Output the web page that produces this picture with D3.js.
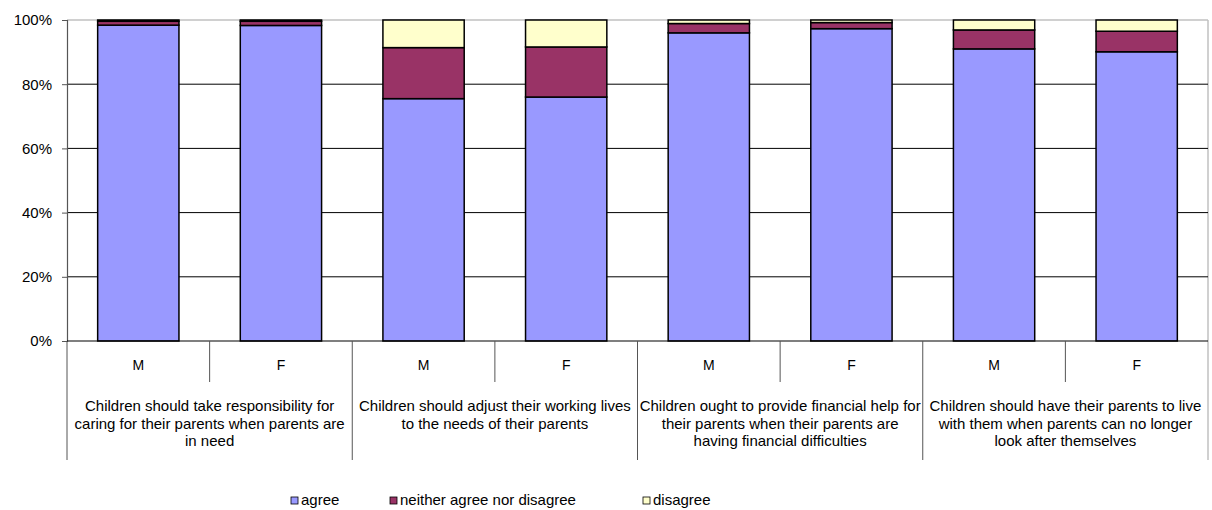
<!DOCTYPE html>
<html>
<head>
<meta charset="utf-8">
<script src="https://cdn.jsdelivr.net/npm/d3@7"></script>
<style>
  body { margin: 0; background: #fff; }
  svg { display: block; font-family: Arial, "Liberation Sans", sans-serif; }
</style>
</head>
<body>
<svg id="chart" width="1212" height="510"></svg>
<script>
// question groups (already wrapped as in the original)
const questions = [
  ["Children should take responsibility for", "caring for their parents when parents are", "in need"],
  ["Children should adjust their working lives", "to the needs of their parents"],
  ["Children ought to provide financial help for", "their parents when their parents are", "having financial difficulties"],
  ["Children should have their parents to live", "with them when parents can no longer", "look after themselves"]
];
const sexes = ["M", "F"];
const seriesNames = ["agree", "neither agree nor disagree", "disagree"];
const seriesColors = ["#9999ff", "#993366", "#ffffcc"];

// percent values per bar, order: Q1 M, Q1 F, Q2 M, Q2 F, ...
const agree    = [98.4, 98.3, 75.5, 76.0, 96.0, 97.3, 91.0, 90.1];
const neither  = [1.2, 1.3, 15.9, 15.6, 2.9, 1.9, 5.9, 6.4];
const disagree = [0.4, 0.4, 8.6, 8.4, 1.1, 0.8, 3.1, 3.5];
const yTicks = [0, 20, 40, 60, 80, 100];

const svg = d3.select("#chart");
const plotLeft = 67, plotRight = 1208, plotTop = 20, plotBottom = 341;

// build rows for the stack
let rows = [];
questions.forEach((q, qi) => {
  sexes.forEach((s, si) => {
    let i = qi * 2 + si;
    rows.push({ key: qi + "-" + s, q: qi, sex: s,
      agree: agree[i], neither: neither[i], disagree: disagree[i] });
  });
});

const x = d3.scaleBand()
  .domain(rows.map(d => d.key))
  .range([plotLeft, plotRight])
  .paddingInner(0.43)
  .paddingOuter(0.215);
const xGroup = d3.scaleBand()
  .domain(d3.range(questions.length))
  .range([plotLeft, plotRight]);
const y = d3.scaleLinear().domain([0, 100]).range([plotBottom, plotTop]);

// plot border (gray) at top and right
svg.append("line").attr("x1", plotLeft).attr("x2", plotRight).attr("y1", plotTop).attr("y2", plotTop)
  .attr("stroke", "#c0c0c0").attr("stroke-width", 1.5);
svg.append("line").attr("x1", plotRight).attr("x2", plotRight).attr("y1", plotTop).attr("y2", 460)
  .attr("stroke", "#c0c0c0").attr("stroke-width", 1.5);

// gridlines
svg.append("g").selectAll("line")
  .data(yTicks.filter(t => t > 0 && t < 100))
  .join("line")
  .attr("x1", plotLeft).attr("x2", plotRight)
  .attr("y1", d => y(d)).attr("y2", d => y(d))
  .attr("stroke", "#000").attr("stroke-width", 1);

// y axis
const yAxis = svg.append("g")
  .attr("transform", `translate(${plotLeft},0)`)
  .call(d3.axisLeft(y).tickValues(yTicks).tickFormat(d => d + "%").tickSize(5).tickPadding(10));
yAxis.select(".domain").attr("stroke", "#555").attr("stroke-width", 1.2);
yAxis.selectAll(".tick line").attr("stroke", "#555");
yAxis.selectAll("text").attr("font-size", 15).attr("fill", "#000")
  .attr("font-family", "Arial, 'Liberation Sans', sans-serif");

// stacked bars
const keys = ["agree", "neither", "disagree"];
const stacked = d3.stack().keys(keys)(rows);
svg.append("g").selectAll("g")
  .data(stacked)
  .join("g")
  .attr("fill", (d, i) => seriesColors[i])
  .selectAll("rect")
  .data(d => d)
  .join("rect")
  .attr("x", d => x(d.data.key))
  .attr("width", x.bandwidth())
  .attr("y", d => y(d[1]))
  .attr("height", d => y(d[0]) - y(d[1]))
  .attr("stroke", "#000")
  .attr("stroke-width", 1.5);

// category axis baseline
svg.append("line").attr("x1", plotLeft).attr("x2", plotRight).attr("y1", plotBottom).attr("y2", plotBottom)
  .attr("stroke", "#000").attr("stroke-width", 1.2);

// group separators (long) and sex separators (short)
svg.append("g").selectAll("line")
  .data(d3.range(questions.length))
  .join("line")
  .attr("x1", d => xGroup(d)).attr("x2", d => xGroup(d))
  .attr("y1", plotBottom).attr("y2", 460)
  .attr("stroke", "#555").attr("stroke-width", 1);
svg.append("g").selectAll("line")
  .data(d3.range(questions.length))
  .join("line")
  .attr("x1", d => xGroup(d) + xGroup.bandwidth() / 2)
  .attr("x2", d => xGroup(d) + xGroup.bandwidth() / 2)
  .attr("y1", plotBottom).attr("y2", 382)
  .attr("stroke", "#555").attr("stroke-width", 1);

// M / F labels
svg.append("g").selectAll("text")
  .data(rows)
  .join("text")
  .attr("x", d => x(d.key) + x.bandwidth() / 2)
  .attr("y", 370)
  .attr("text-anchor", "middle")
  .attr("font-size", 14)
  .text(d => d.sex);

// question labels
const qText = svg.append("g").selectAll("text")
  .data(questions)
  .join("text")
  .attr("text-anchor", "middle")
  .attr("font-size", 15)
  .attr("transform", (d, i) => `translate(${xGroup(i) + xGroup.bandwidth() / 2},0)`);
qText.selectAll("tspan")
  .data(d => d)
  .join("tspan")
  .attr("x", 0)
  .attr("y", (d, i) => 411 + i * 17.5)
  .text(d => d);

// legend
const legendX = [291, 390, 643];
const legend = svg.append("g").selectAll("g")
  .data(seriesNames)
  .join("g")
  .attr("transform", (d, i) => `translate(${legendX[i]},497)`);
legend.append("rect")
  .attr("width", 7).attr("height", 7)
  .attr("fill", (d, i) => seriesColors[i])
  .attr("stroke", "#000").attr("stroke-width", 0.8);
legend.append("text")
  .attr("x", 10).attr("y", 8)
  .attr("font-size", 15)
  .text(d => d);
</script>
</body>
</html>
